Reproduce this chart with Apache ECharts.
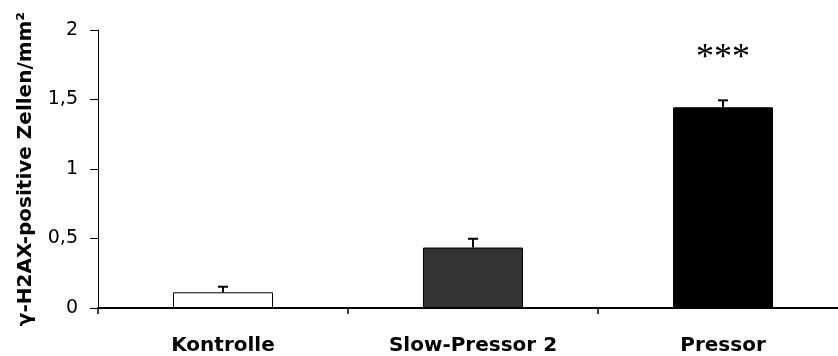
<!DOCTYPE html>
<html>
<head>
<meta charset="utf-8">
<style>
  html, body { margin: 0; padding: 0; background: #fff; }
  #chart { width: 838px; height: 356px; }
</style>
<script src="https://cdn.jsdelivr.net/npm/echarts@6/dist/echarts.min.js"></script>
</head>
<body>
<div id="chart"></div>
<script>
// γ-H2AX positive cells per mm² for the three groups
const categories = ['Kontrolle', 'Slow-Pressor 2', 'Pressor'];
const means = [0.113, 0.435, 1.444];
const errors = [0.04, 0.063, 0.05];
const significance = ['', '', '***'];
const barColors = ['#ffffff', '#333333', '#000000'];
const yTicks = [0, 0.5, 1, 1.5, 2];

const chart = echarts.init(document.getElementById('chart'), null, { renderer: 'canvas' });

const barData = means.map((v, i) => ({
  value: v,
  itemStyle: { color: barColors[i], borderColor: '#000', borderWidth: 1 },
  label: significance[i] ? {
    show: true,
    formatter: significance[i],
    position: 'top',
    distance: 31,
    color: '#000',
    fontFamily: 'Liberation Serif',
    fontSize: 36
  } : { show: false }
}));

const errData = means.map((v, i) => [i, v, errors[i]]);

chart.setOption({
  animation: false,
  backgroundColor: '#fff',
  // plot area runs slightly past the right edge of the canvas
  grid: { left: 98, width: 750, top: 30, bottom: 48, outerBoundsMode: 'none', containLabel: false },
  xAxis: {
    type: 'category',
    data: categories,
    axisLine: { lineStyle: { color: '#000', width: 2 } },
    axisTick: { show: true, length: 6, lineStyle: { color: '#000', width: 1.5 } },
    axisLabel: {
      color: '#000',
      fontFamily: 'DejaVu Sans',
      fontWeight: 'bold',
      fontSize: 20,
      margin: 28
    }
  },
  yAxis: {
    type: 'value',
    min: yTicks[0],
    max: yTicks[yTicks.length - 1],
    interval: 0.5,
    name: 'γ-H2AX-positive Zellen/mm²',
    nameLocation: 'middle',
    nameGap: 62,
    nameTextStyle: {
      color: '#000',
      fontFamily: 'DejaVu Sans',
      fontWeight: 'bold',
      fontSize: 20
    },
    splitLine: { show: false },
    axisLine: { show: true, lineStyle: { color: '#000', width: 1 } },
    axisTick: { show: true, length: 8, lineStyle: { color: '#000', width: 1 } },
    axisLabel: {
      color: '#000',
      fontFamily: 'DejaVu Sans',
      fontSize: 19,
      margin: 20,
      formatter: v => String(v).replace('.', ',')
    }
  },
  series: [
    {
      type: 'bar',
      barWidth: '40%',
      data: barData,
      z: 2
    },
    {
      type: 'custom',
      z: 3,
      data: errData,
      renderItem: (params, api) => {
        const x = api.value(0);
        const v = api.value(1);
        const e = api.value(2);
        const base = api.coord([x, v]);
        const top = api.coord([x, v + e]);
        const half = 5;
        const style = { stroke: '#000', lineWidth: 2 };
        return {
          type: 'group',
          children: [
            { type: 'line', shape: { x1: base[0], y1: base[1], x2: top[0], y2: top[1] }, style },
            { type: 'line', shape: { x1: top[0] - half, y1: top[1], x2: top[0] + half, y2: top[1] }, style }
          ]
        };
      }
    }
  ]
});
</script>
</body>
</html>
